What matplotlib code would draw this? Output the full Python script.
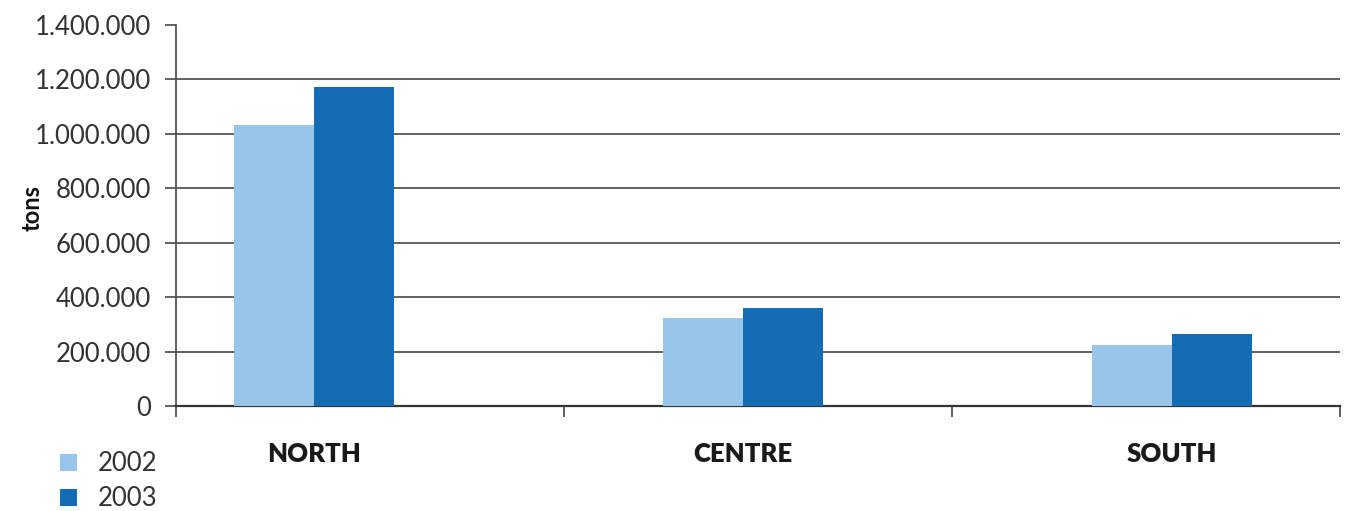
import numpy as np
import matplotlib.pyplot as plt
from matplotlib.ticker import FuncFormatter

# dados
regioes = ["NORTH", "CENTRE", "SOUTH"]
anos = ["2002", "2003"]
valores_2002 = [1033000, 322000, 223000]
valores_2003 = [1172000, 359000, 264000]
y_ticks = [0, 200000, 400000, 600000, 800000, 1000000, 1200000, 1400000]

cor_2002 = "#98C6EA"
cor_2003 = "#136CB4"
cor_texto = "#333333"
cor_grade = "#555555"

plt.rcParams['font.family'] = ['Lato', 'DejaVu Sans']

fig = plt.figure(figsize=(13.49, 5.11), dpi=100)
ax = fig.add_axes([0.1305, 0.2055, 0.8628, 0.7455])

x = np.arange(len(regioes))
largura = 0.187
ax.bar(x - largura / 2, valores_2002, largura, color=cor_2002, label=anos[0], zorder=3)
ax.bar(x + largura / 2, valores_2003, largura, color=cor_2003, label=anos[1], zorder=3)

x_min, x_max = -0.3217, 2.392
ax.set_xlim(x_min, x_max)
ax.set_ylim(0, 1400000)

# eixo y
ax.set_yticks(y_ticks)
ax.yaxis.set_major_formatter(FuncFormatter(lambda v, p: f"{int(v):,}".replace(",", ".")))
ax.tick_params(axis='y', direction='out', length=8, width=1.3, color=cor_grade,
               labelsize=18.5, labelcolor=cor_texto, pad=10)
for v in y_ticks[1:-1]:
    ax.axhline(v, color=cor_grade, linewidth=1.3, zorder=1)
ax.set_ylabel("tons", fontsize=17, fontweight='bold', color="#111111")
ax.yaxis.set_label_coords(-0.114, 0.52)

# eixo x
ax.set_xticks(x)
ax.set_xticklabels(regioes, fontsize=18.5, fontweight='heavy', color="#1a1a1a")
ax.tick_params(axis='x', which='major', length=0, pad=26)
ax.set_xticks(np.linspace(x_min, x_max, 4), minor=True)
ax.tick_params(axis='x', which='minor', direction='out', length=8, width=1.3, color=cor_grade)

for lado in ['top', 'right']:
    ax.spines[lado].set_visible(False)
ax.spines['left'].set_color(cor_grade)
ax.spines['left'].set_linewidth(1.3)
ax.spines['bottom'].set_color("#333333")
ax.spines['bottom'].set_linewidth(1.6)

fig.legend(loc='upper left', bbox_to_anchor=(0.0445, 0.117), frameon=False,
           prop={'size': 18.5},
           handlelength=0.66, handleheight=0.66, handletextpad=0.8,
           labelspacing=0.4, borderpad=0, borderaxespad=0, labelcolor=cor_texto)

fig.savefig("out.png", dpi=100)
